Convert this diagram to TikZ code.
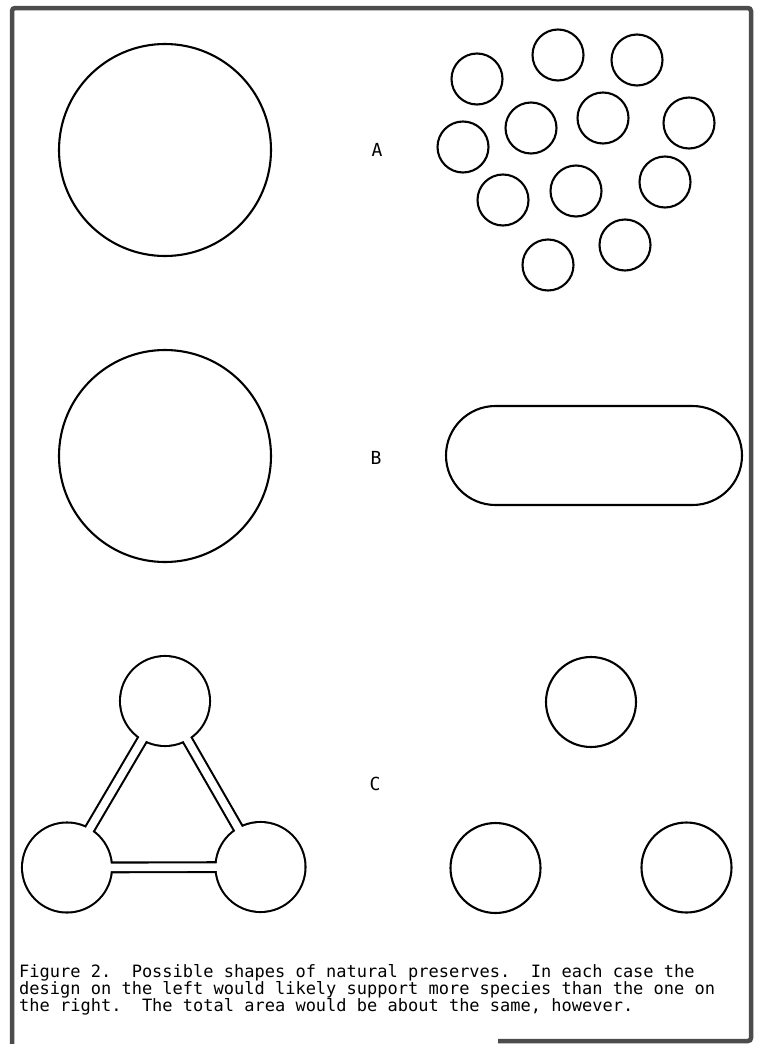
\documentclass[tikz,border=0pt]{standalone}
\usepackage{fontspec}
\newfontfamily\capfont{DejaVu Sans Mono}
\frenchspacing
\tikzset{
  frame/.style={draw=black!70, line width=4.5pt, rounded corners=3pt},
  preserve/.style={circle, draw=black, line width=2.1pt, inner sep=0pt},
  small/.style={preserve, minimum size=51pt},
  mid/.style={preserve, minimum size=90pt},
  big/.style={preserve, minimum size=212pt},
  rowlabel/.style={font=\capfont\fontsize{18}{18}\selectfont, inner sep=0pt},
  captionline/.style={font=\capfont\fontsize{17}{17}\selectfont, anchor=base west, inner sep=0pt},
}
\begin{document}
\begin{tikzpicture}[x=1pt,y=-1pt]
\useasboundingbox (0,0) rectangle (756,1044);
\fill[white] (0,0) rectangle (756,1044);
% frame
\draw[frame] (12,1050) -- (12,8) -- (751,8) -- (751,1041) -- (498,1041);

% Row A
\node[big] (Abig) at (165,150) {};
\node[rowlabel] (lA) at (377,150) {A};
\node[small] (a1) at (477,79) {};
\node[small] (a2) at (558,55) {};
\node[small] (a3) at (637,60) {};
\node[small] (a4) at (463,147) {};
\node[small] (a5) at (531,128) {};
\node[small] (a6) at (603,118) {};
\node[small] (a7) at (689,123) {};
\node[small] (a8) at (503,200) {};
\node[small] (a9) at (576,191) {};
\node[small] (a10) at (665,182) {};
\node[small] (a11) at (548,265) {};
\node[small] (a12) at (625,245) {};

% Row B
\node[big] (Bbig) at (165,456) {};
\node[rowlabel] (lB) at (376,458) {B};
\node[draw=black, line width=2.1pt, rectangle, rounded corners=49.5pt,
      minimum width=296pt, minimum height=99pt, inner sep=0pt] (Bs) at (594,455.5) {};

% Row C, left: three reserves joined by corridors
\coordinate (ct) at (165,701);
\coordinate (cl) at (67,867.5);
\coordinate (cr) at (260.5,867);
\fill[black] (ct) circle (46.05) (cl) circle (46.05) (cr) circle (46.05);
\draw[black, line width=11.8pt] (ct) -- (cl) -- (cr) -- cycle;
\fill[white] (ct) circle (43.95) (cl) circle (43.95) (cr) circle (43.95);
\draw[white, line width=7.6pt] (ct) -- (cl) -- (cr) -- cycle;

\node[rowlabel] (lC) at (375,784) {C};

% Row C, right
\node[mid] (c1) at (591,702) {};
\node[mid] (c2) at (495.5,868) {};
\node[mid] (c3) at (686.5,867.5) {};

% caption
\node[captionline] (cap1) at (19,977) {Figure 2.\ \ Possible shapes of natural preserves.\ \ In each case the};
\node[captionline] (cap2) at (19,994) {design on the left would likely support more species than the one on};
\node[captionline] (cap3) at (19,1011) {the right.\ \ The total area would be about the same, however.};
\end{tikzpicture}
\end{document}
